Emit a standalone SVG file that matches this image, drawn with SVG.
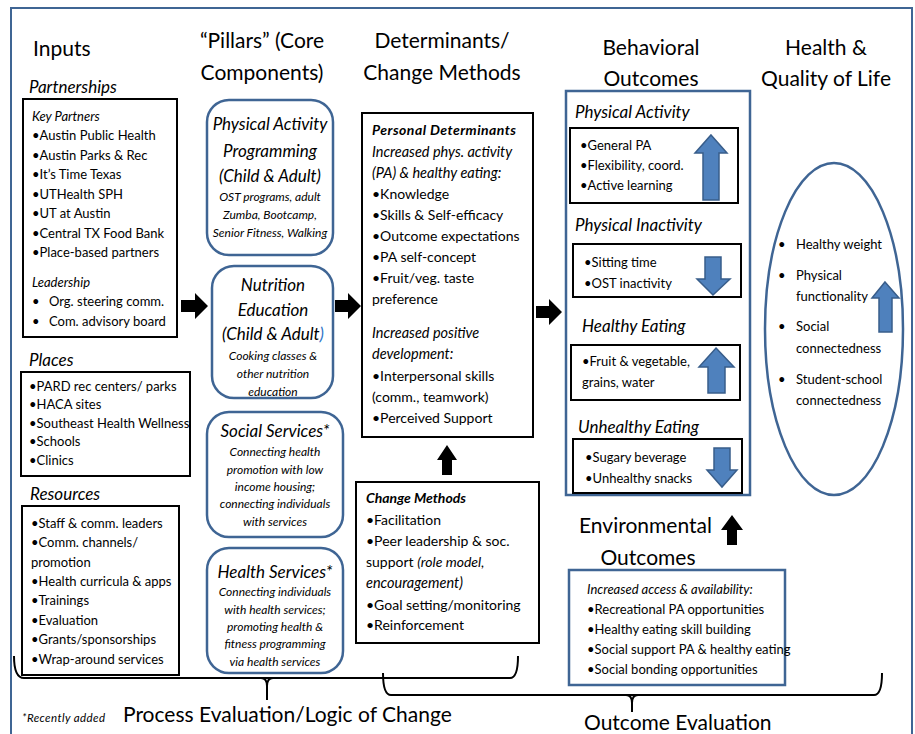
<svg xmlns="http://www.w3.org/2000/svg" width="915" height="734" viewBox="0 0 915 734">
<style>
text{font-family:Lato,"Liberation Sans",sans-serif;fill:#000}
.h{font-size:21px}
.sec{font-size:17px;font-style:italic}
.t{font-size:13px}
.ti{font-size:13px;font-style:italic}
.m{font-size:14px}
.mi{font-size:14.5px;font-style:italic}
.tb{font-size:14px;font-style:italic;font-weight:bold}
.pt{font-size:17px;font-style:italic}
.ps{font-size:12px;font-style:italic}
.bx{fill:#fff;stroke:#000;stroke-width:2}
.rb{fill:#fff;stroke:#3f6594;stroke-width:2.5}
.bb{fill:none;stroke:#3f6594;stroke-width:2.5}
.blk{fill:#000}
.ba{fill:#4f81bd;stroke:#385d8a;stroke-width:1.5}
.br{fill:none;stroke:#000;stroke-width:2}
</style>
<rect x="0" y="0" width="915" height="734" fill="#fff"/>
<rect x="11" y="8" width="901" height="740" fill="none" stroke="#3f6594" stroke-width="2"/>

<!-- Headers -->
<g id="headers">
<text class="h" x="33" y="56">Inputs</text>
<text class="h" x="262" y="48" text-anchor="middle">“Pillars” (Core</text>
<text class="h" x="262" y="80" text-anchor="middle">Components)</text>
<text class="h" x="442" y="48" text-anchor="middle">Determinants/</text>
<text class="h" x="442" y="80" text-anchor="middle">Change Methods</text>
<text class="h" x="651" y="55" text-anchor="middle">Behavioral</text>
<text class="h" x="651" y="86" text-anchor="middle">Outcomes</text>
<text class="h" x="826" y="55" text-anchor="middle">Health &amp;</text>
<text class="h" x="826" y="86" text-anchor="middle">Quality of Life</text>
</g>

<!-- Inputs -->
<g id="partnerships">
<text class="sec" x="29" y="93">Partnerships</text>
<rect class="bx" x="23" y="99" width="154" height="238"/>
<text class="ti" x="32" y="121">Key Partners</text>
<text class="t" x="32" y="140">•Austin Public Health</text>
<text class="t" x="32" y="160">•Austin Parks &amp; Rec</text>
<text class="t" x="32" y="179">•It’s Time Texas</text>
<text class="t" x="32" y="199">•UTHealth SPH</text>
<text class="t" x="32" y="218">•UT at Austin</text>
<text class="t" x="32" y="238">•Central TX Food Bank</text>
<text class="t" x="32" y="257">•Place-based partners</text>
<text class="ti" x="32" y="287">Leadership</text>
<text class="t" x="32" y="306">•</text>
<text class="t" x="49" y="306">Org. steering comm.</text>
<text class="t" x="32" y="326">•</text>
<text class="t" x="49" y="326">Com. advisory board</text>
</g>
<g id="places">
<text class="sec" x="29" y="366">Places</text>
<rect class="bx" x="21" y="372" width="169" height="104"/>
<text class="t" x="29" y="391" font-size="12">•PARD rec centers/ parks</text>
<text class="t" x="29" y="409" font-size="12">•HACA sites</text>
<text class="t" x="29" y="428" font-size="12">•Southeast Health Wellness</text>
<text class="t" x="29" y="446" font-size="12">•Schools</text>
<text class="t" x="29" y="465" font-size="12">•Clinics</text>
</g>
<g id="resources">
<text class="sec" x="30" y="500">Resources</text>
<rect class="bx" x="22" y="506" width="157" height="169"/>
<text class="t" x="31" y="528">•Staff &amp; comm. leaders</text>
<text class="t" x="31" y="547">•Comm. channels/</text>
<text class="t" x="31" y="567">promotion</text>
<text class="t" x="31" y="586">•Health curricula &amp; apps</text>
<text class="t" x="31" y="605">•Trainings</text>
<text class="t" x="31" y="625">•Evaluation</text>
<text class="t" x="31" y="644">•Grants/sponsorships</text>
<text class="t" x="31" y="664">•Wrap-around services</text>
</g>

<!-- Pillars -->
<g id="pillar-pa">
<rect class="rb" x="207" y="100" width="126" height="155" rx="22"/>
<text class="pt" x="270" y="130" text-anchor="middle">Physical Activity</text>
<text class="pt" x="270" y="157" text-anchor="middle">Programming</text>
<text class="pt" x="270" y="182" text-anchor="middle">(Child &amp; Adult)</text>
<text class="ps" x="270" y="201" text-anchor="middle">OST programs, adult</text>
<text class="ps" x="270" y="219" text-anchor="middle">Zumba, Bootcamp,</text>
<text class="ps" x="270" y="237" text-anchor="middle" font-size="11.5">Senior Fitness,  Walking</text>
</g>
<g id="pillar-nutrition">
<rect class="rb" x="212" y="266" width="121" height="132" rx="22"/>
<text class="pt" x="273" y="291" text-anchor="middle">Nutrition</text>
<text class="pt" x="273" y="316" text-anchor="middle">Education</text>
<text class="pt" x="273" y="340" text-anchor="middle">(Child &amp; Adult<tspan fill="#2e75c8">)</tspan></text>
<text class="ps" x="273" y="360" text-anchor="middle">Cooking classes &amp;</text>
<text class="ps" x="273" y="378" text-anchor="middle">other nutrition</text>
<text class="ps" x="273" y="396" text-anchor="middle">education</text>
</g>
<g id="pillar-social">
<rect class="rb" x="207" y="412" width="136" height="125" rx="22"/>
<text class="pt" x="275" y="437" text-anchor="middle">Social Services*</text>
<text class="ps" x="275" y="456" text-anchor="middle">Connecting health</text>
<text class="ps" x="275" y="474" text-anchor="middle">promotion  with low</text>
<text class="ps" x="275" y="491" text-anchor="middle">income housing;</text>
<text class="ps" x="275" y="508" text-anchor="middle">connecting individuals</text>
<text class="ps" x="275" y="526" text-anchor="middle">with services</text>
</g>
<g id="pillar-health">
<rect class="rb" x="207" y="548" width="136" height="125" rx="22"/>
<text class="pt" x="275" y="578" text-anchor="middle">Health Services*</text>
<text class="ps" x="275" y="596" text-anchor="middle">Connecting individuals</text>
<text class="ps" x="275" y="614" text-anchor="middle">with health services;</text>
<text class="ps" x="275" y="631" text-anchor="middle">promoting health &amp;</text>
<text class="ps" x="275" y="648" text-anchor="middle">fitness programming</text>
<text class="ps" x="275" y="666" text-anchor="middle">via health services</text>
</g>

<!-- Determinants -->
<g id="personal-determinants">
<rect class="bx" x="362" y="113" width="171" height="324"/>
<text class="tb" x="372" y="135" textLength="144" lengthAdjust="spacing">Personal Determinants</text>
<text class="mi" x="372" y="157">Increased phys. activity</text>
<text class="mi" x="372" y="178">(PA) &amp; healthy eating:</text>
<text class="m" x="372" y="199">•Knowledge</text>
<text class="m" x="372" y="220">•Skills &amp; Self-efficacy</text>
<text class="m" x="372" y="241">•Outcome expectations</text>
<text class="m" x="372" y="262">•PA self-concept</text>
<text class="m" x="372" y="283">•Fruit/veg. taste</text>
<text class="m" x="372" y="304">preference</text>
<text class="mi" x="372" y="338">Increased positive</text>
<text class="mi" x="372" y="359">development:</text>
<text class="m" x="372" y="381">•Interpersonal skills</text>
<text class="m" x="372" y="402">(comm., teamwork)</text>
<text class="m" x="372" y="423">•Perceived Support</text>
</g>
<g id="change-methods">
<rect class="bx" x="356" y="482" width="183" height="161"/>
<text class="tb" x="366" y="503">Change  Methods</text>
<text class="m" x="366" y="525">•Facilitation</text>
<text class="m" x="366" y="546">•Peer leadership &amp; soc.</text>
<text class="m" x="366" y="567">support <tspan font-style="italic">(role model,</tspan></text>
<text class="mi" x="366" y="588">encouragement)</text>
<text class="m" x="366" y="610">•Goal setting/monitoring</text>
<text class="m" x="366" y="630">•Reinforcement</text>
</g>

<!-- Behavioral outcomes -->
<g id="behavioral-outcomes">
<rect class="bb" x="566" y="91" width="184" height="404"/>
<text class="sec" x="575" y="118">Physical Activity</text>
<rect class="bx" x="570" y="128" width="168" height="75"/>
<text class="t" x="580" y="150">•General PA</text>
<text class="t" x="580" y="170">•Flexibility, coord.</text>
<text class="t" x="580" y="190">•Active learning</text>
<path class="ba" d="M711 135 L727 153 L719 153 L719 200 L703 200 L703 153 L695 153 Z"/>

<text class="sec" x="575" y="231">Physical Inactivity</text>
<rect class="bx" x="573" y="244" width="168" height="53"/>
<text class="t" x="584" y="267">•Sitting time</text>
<text class="t" x="584" y="288">•OST inactivity</text>
<path class="ba" d="M705 257 L721 257 L721 279 L730 279 L713 295 L697 279 L705 279 Z"/>

<text class="sec" x="582" y="332">Healthy Eating</text>
<rect class="bx" x="571" y="345" width="169" height="55"/>
<text class="t" x="582" y="366">•Fruit &amp; vegetable,</text>
<text class="t" x="582" y="387">grains, water</text>
<path class="ba" d="M716 348 L734 367 L725 367 L725 393 L708 393 L708 367 L699 367 Z"/>

<text class="sec" x="578" y="433">Unhealthy Eating</text>
<rect class="bx" x="573" y="439" width="169" height="54"/>
<text class="t" x="585" y="462">•Sugary beverage</text>
<text class="t" x="585" y="483">•Unhealthy snacks</text>
<path class="ba" d="M714 448 L730 448 L730 470 L737 470 L722 487 L707 470 L714 470 Z"/>
</g>

<!-- Environmental outcomes -->
<g id="environmental-outcomes">
<text class="h" x="579" y="533">Environmental</text>
<text class="h" x="648" y="565" text-anchor="middle">Outcomes</text>
<rect class="bb" x="569" y="570" width="216" height="115"/>
<text class="ti" x="587" y="594" font-size="12">Increased access &amp; availability:</text>
<text class="t" x="587" y="614" font-size="12">•Recreational PA opportunities</text>
<text class="t" x="587" y="634" font-size="12">•Healthy eating skill building</text>
<text class="t" x="587" y="654" font-size="12">•Social support PA &amp; healthy eating</text>
<text class="t" x="587" y="674" font-size="12">•Social bonding opportunities</text>
</g>

<!-- Health & QoL -->
<g id="health-qol">
<ellipse cx="834" cy="329" rx="69" ry="166" fill="none" stroke="#3f6594" stroke-width="2.5"/>
<text class="t" x="778" y="249">•</text>
<text class="t" x="796" y="249">Healthy weight</text>
<text class="t" x="778" y="280">•</text>
<text class="t" x="796" y="280">Physical</text>
<text class="t" x="796" y="301">functionality</text>
<text class="t" x="778" y="331">•</text>
<text class="t" x="796" y="331">Social</text>
<text class="t" x="796" y="353">connectedness</text>
<text class="t" x="778" y="384">•</text>
<text class="t" x="796" y="384">Student-school</text>
<text class="t" x="796" y="405">connectedness</text>
<path class="ba" d="M885 282 L899 298 L892 298 L892 332 L879 332 L879 298 L872 298 Z"/>
</g>

<!-- Connectors -->
<g id="connectors">
<path class="blk" d="M181 300 L195 300 L195 293 L208 306 L195 319 L195 312 L181 312 Z"/>
<path class="blk" d="M335 300 L348 300 L348 293 L361 306 L348 319 L348 312 L335 312 Z"/>
<path class="blk" d="M536 306 L549 306 L549 299 L562 312 L549 325 L549 318 L536 318 Z"/>
<path class="blk" d="M442 475 L442 460 L437 460 L447 445 L457 460 L452 460 L452 475 Z"/>
<path class="blk" d="M727 545 L727 530 L721 530 L732 515 L743 530 L737 530 L737 545 Z"/>
</g>

<!-- Evaluation brackets -->
<g id="evaluation">
<path class="br" d="M14 656 Q14 678 24 678 L510 678 Q518 678 518 656"/>
<path class="br" d="M261 678 Q267 678 267 686 L267 700"/>
<path class="br" d="M273 678 Q267 678 267 686"/>
<path class="br" d="M383 673 Q383 695 391 695 L874 695 Q882 695 882 673"/>
<path class="br" d="M626 695 Q632 695 632 703 L632 712"/>
<path class="br" d="M638 695 Q632 695 632 703"/>
<text x="22" y="722" font-size="11.5" font-style="italic" textLength="83" lengthAdjust="spacing">*Recently  added</text>
<text x="123" y="722" font-size="21">Process Evaluation/Logic of Change</text>
<text x="584" y="730" font-size="21">Outcome Evaluation</text>
</g>
</svg>
